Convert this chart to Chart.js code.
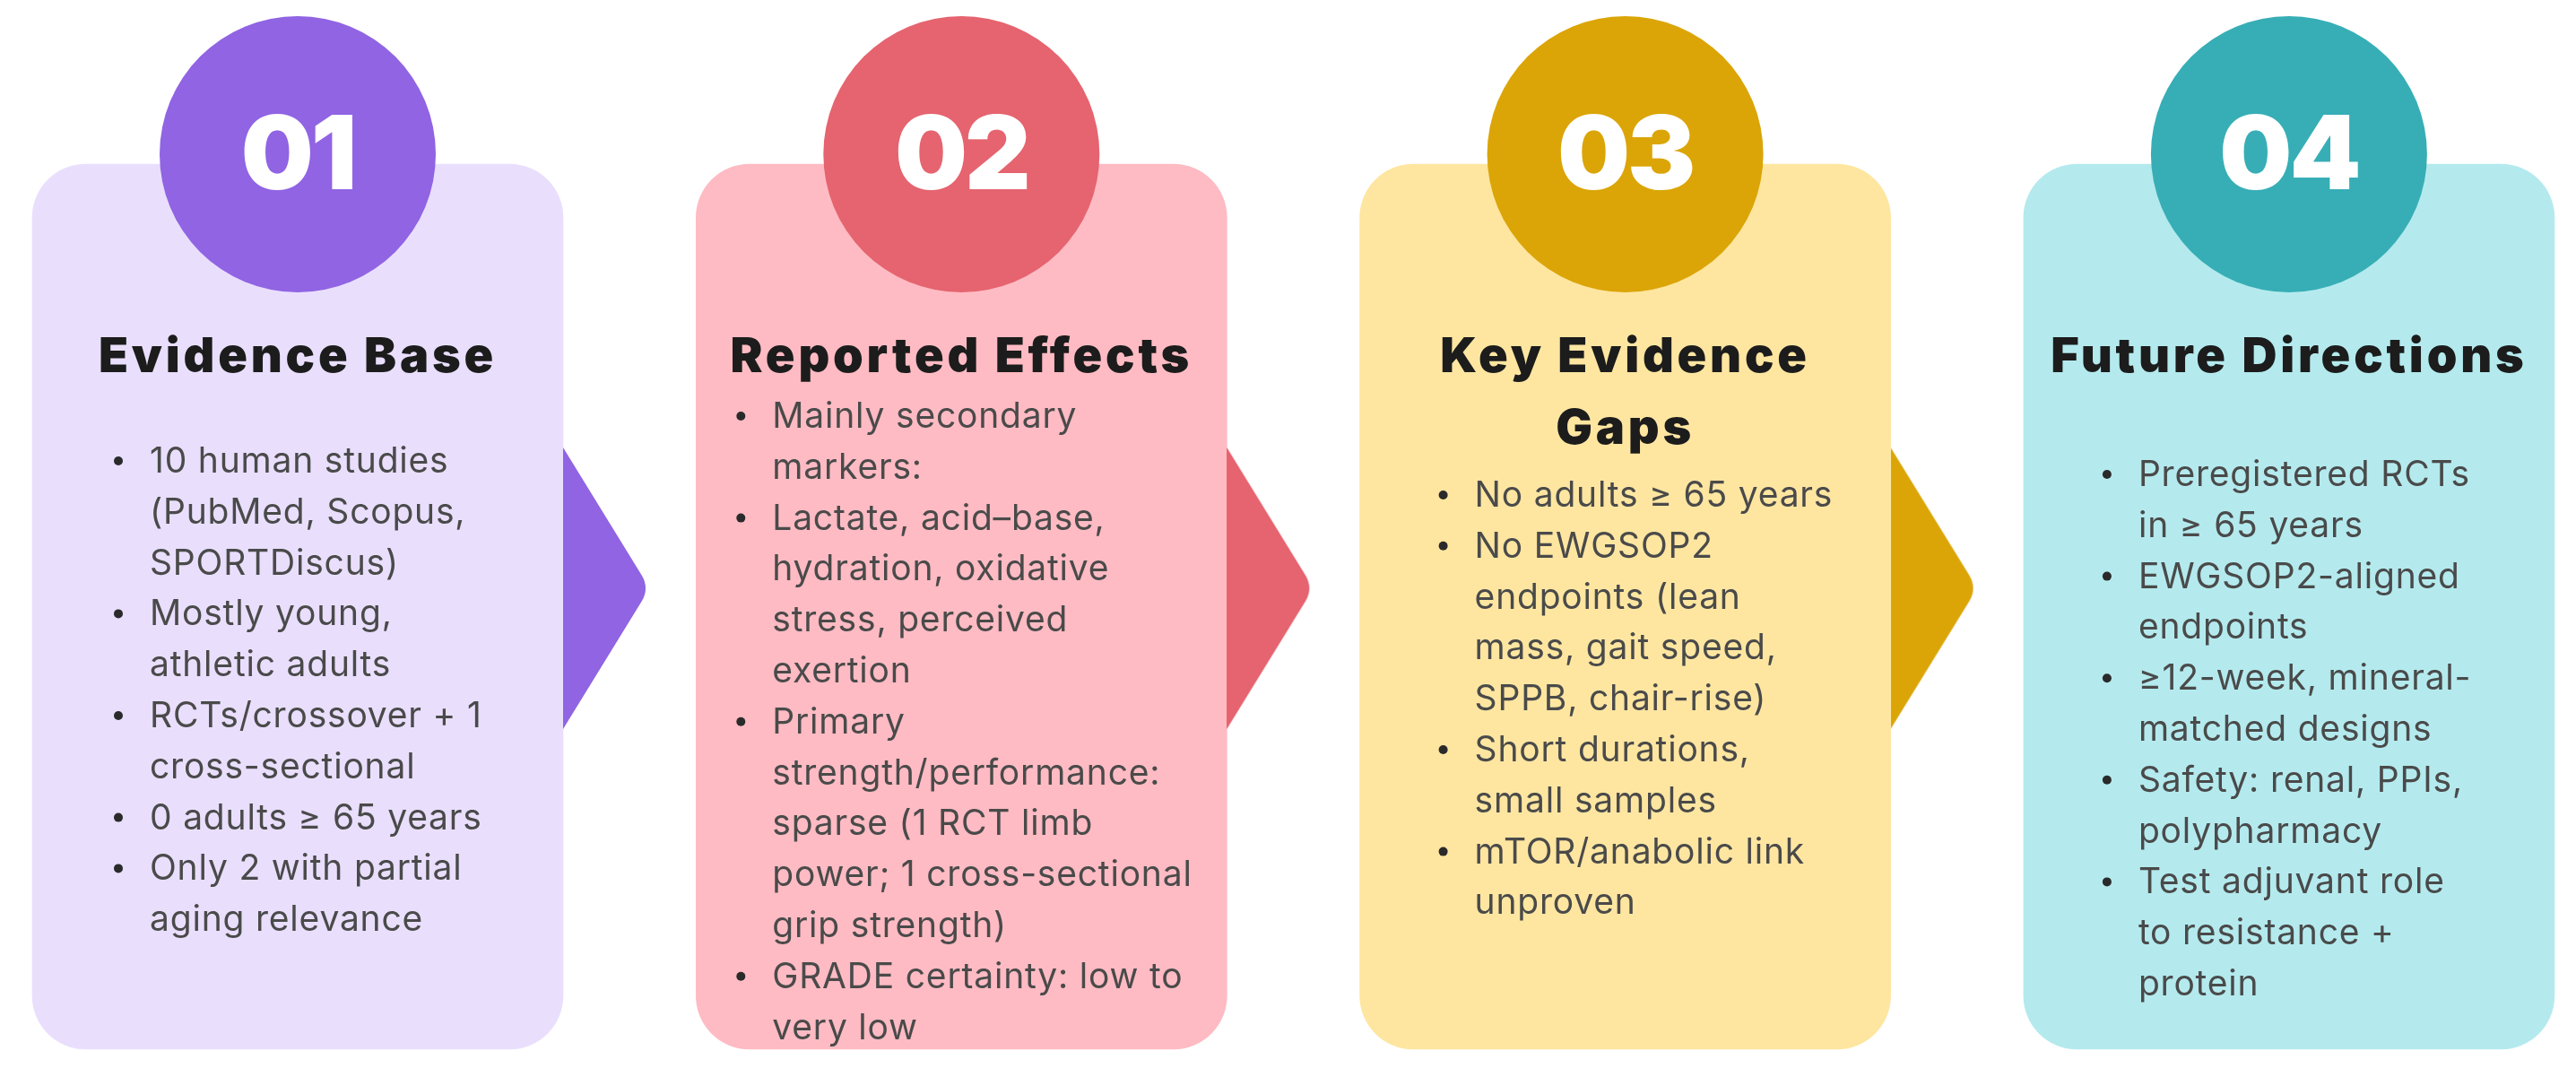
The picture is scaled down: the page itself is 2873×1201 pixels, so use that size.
<!DOCTYPE html>
<html>
<head>
<meta charset="utf-8">
<script src="https://cdn.jsdelivr.net/npm/chart.js@4.4.1/dist/chart.umd.min.js"></script>
<style>
  html, body { margin: 0; padding: 0; background: #ffffff; }
  canvas { display: block; }
</style>
</head>
<body>
<canvas id="flowChart" width="2873" height="1201"></canvas>
<script>
// ---- data ----
const steps = ["01", "02", "03", "04"];
const titles = [["Evidence Base"], ["Reported Effects"], ["Key Evidence", "Gaps"], ["Future Directions"]];
const bullets1 = [
  ["10 human studies", "(PubMed, Scopus,", "SPORTDiscus)"],
  ["Mostly young,", "athletic adults"],
  ["RCTs/crossover + 1", "cross-sectional"],
  ["0 adults \u2265 65 years"],
  ["Only 2 with partial", "aging relevance"]
];
const bullets2 = [
  ["Mainly secondary", "markers:"],
  ["Lactate, acid\u2013base,", "hydration, oxidative", "stress, perceived", "exertion"],
  ["Primary", "strength/performance:", "sparse (1 RCT limb", "power; 1 cross-sectional", "grip strength)"],
  ["GRADE certainty: low to", "very low"]
];
const bullets3 = [
  ["No adults \u2265 65 years"],
  ["No EWGSOP2", "endpoints (lean", "mass, gait speed,", "SPPB, chair-rise)"],
  ["Short durations,", "small samples"],
  ["mTOR/anabolic link", "unproven"]
];
const bullets4 = [
  ["Preregistered RCTs", "in \u2265 65 years"],
  ["EWGSOP2-aligned", "endpoints"],
  ["\u226512-week, mineral-", "matched designs"],
  ["Safety: renal, PPIs,", "polypharmacy"],
  ["Test adjuvant role", "to resistance +", "protein"]
];
const bulletLists = [bullets1, bullets2, bullets3, bullets4];

// ---- colours ----
const cardColors = ["#E9DFFD", "#FEBBC3", "#FEE6A1", "#B4EAEE"];
const accentColors = ["#9064E3", "#E5646F", "#DBA507", "#37AEB6"];

// ---- layout (pixels) ----
const W = 2873, H = 1201;
const FIRST_PX = 332, STEP_PX = 740.3;
const CARD_W = 592, CARD_TOP = 183, CARD_BOTTOM = 1170, CARD_R = 60;
const CIRCLE_Y = 172, CIRCLE_R = 154, NUM_BASE = 211;
const ARROW_Y = 656, ARROW_W = 96, ARROW_H = 314;
const TITLE_BASE = 415, TITLE_LH = 80;
const BODY_LH = 56.8;
const textLeft = [131, 85, 128, 128];
const bodyBase = [527, 477, 565, 542];

const pxToUnit = px => px / STEP_PX;

// arrow sprite used as point style
function makeArrow(color) {
  const c = document.createElement('canvas');
  c.width = ARROW_W;
  c.height = ARROW_H;
  const g = c.getContext('2d');
  g.fillStyle = color;
  g.beginPath();
  g.moveTo(0, 0);
  g.lineTo(ARROW_W - 8, ARROW_H / 2 - 14);
  g.quadraticCurveTo(ARROW_W, ARROW_H / 2, ARROW_W - 8, ARROW_H / 2 + 14);
  g.lineTo(0, ARROW_H);
  g.closePath();
  g.fill();
  return c;
}
const arrowImages = accentColors.slice(0, 3).map(makeArrow);

const cardData = steps.map((s, i) => ({ x: i, y: [CARD_TOP, CARD_BOTTOM] }));
const circleData = steps.map((s, i) => ({ x: i, y: CIRCLE_Y }));
const arrowOffset = pxToUnit(CARD_W / 2 + ARROW_W / 2);
const arrowData = steps.slice(0, 3).map((s, i) => ({ x: i + arrowOffset, y: ARROW_Y }));

const cardText = {
  id: 'cardText',
  afterDatasetsDraw(chart) {
    const ctx = chart.ctx;
    const xs = chart.scales.x;
    const ys = chart.scales.y;
    steps.forEach((s, i) => {
      const cx = xs.getPixelForValue(i);
      const left = cx - CARD_W / 2;
      ctx.save();
      ctx.textBaseline = 'alphabetic';

      // step number
      ctx.fillStyle = '#ffffff';
      ctx.textAlign = 'center';
      ctx.font = '900 114px Inter';
      ctx.letterSpacing = '-3px';
      ctx.fillText(s, cx, ys.getPixelForValue(NUM_BASE));

      // title
      ctx.fillStyle = '#1c1c1c';
      ctx.font = '900 54px Inter';
      ctx.letterSpacing = '3.8px';
      titles[i].forEach((t, k) => {
        ctx.fillText(t, cx, ys.getPixelForValue(TITLE_BASE + k * TITLE_LH));
      });

      // bullets
      ctx.textAlign = 'left';
      ctx.font = '400 39px Inter';
      ctx.letterSpacing = '0.8px';
      let y = bodyBase[i];
      const tx = left + textLeft[i];
      bulletLists[i].forEach(item => {
        ctx.fillStyle = '#2a2a2a';
        ctx.beginPath();
        ctx.arc(tx - 35, ys.getPixelForValue(y - 13), 5, 0, Math.PI * 2);
        ctx.fill();
        ctx.fillStyle = '#4a4a4a';
        item.forEach(line => {
          ctx.fillText(line, tx, ys.getPixelForValue(y));
          y += BODY_LH;
        });
      });
      ctx.restore();
    });
  }
};

new Chart(document.getElementById('flowChart'), {
  type: 'bar',
  data: {
    labels: steps,
    datasets: [
      {
        type: 'scatter',
        label: 'steps',
        data: circleData,
        backgroundColor: accentColors,
        borderWidth: 0,
        pointRadius: CIRCLE_R,
        pointHoverRadius: CIRCLE_R,
        clip: false,
        order: 1
      },
      {
        type: 'scatter',
        label: 'arrows',
        data: arrowData,
        pointStyle: arrowImages,
        pointRadius: ARROW_H / 2,
        clip: false,
        order: 2
      },
      {
        type: 'bar',
        label: 'cards',
        data: cardData,
        backgroundColor: cardColors,
        borderRadius: CARD_R,
        borderSkipped: false,
        barThickness: CARD_W,
        clip: false,
        order: 3
      }
    ]
  },
  options: {
    responsive: false,
    devicePixelRatio: 1,
    animation: false,
    layout: { padding: 0, autoPadding: false },
    events: [],
    scales: {
      x: {
        type: 'linear',
        display: false,
        offset: false,
        min: -pxToUnit(FIRST_PX),
        max: pxToUnit(W - FIRST_PX)
      },
      y: {
        type: 'linear',
        display: false,
        reverse: true,
        min: 0,
        max: H
      }
    },
    plugins: {
      legend: { display: false },
      tooltip: { enabled: false }
    }
  },
  plugins: [cardText]
});
</script>
</body>
</html>
